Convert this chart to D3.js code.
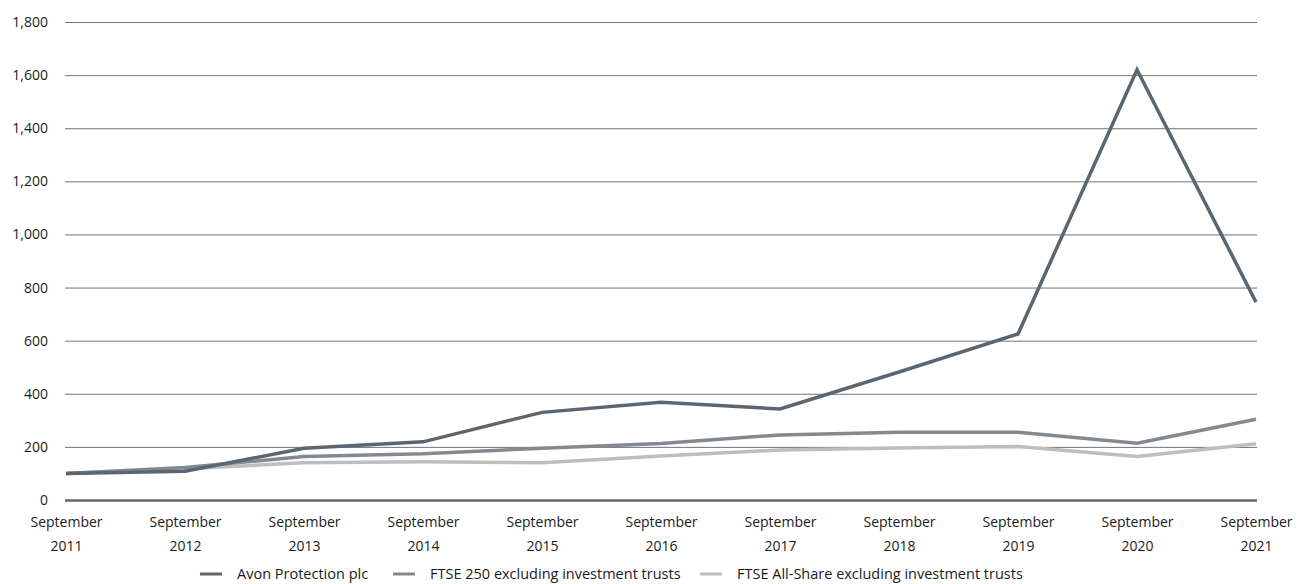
<!DOCTYPE html>
<html><head><meta charset="utf-8">
<script src="https://cdn.jsdelivr.net/npm/d3@7"></script>
<style>body{margin:0;background:#fff}svg{display:block}text{font-family:"Open Sans",sans-serif;fill:#1a1a1a}</style>
</head><body><svg id="c" width="1311" height="584"></svg>
<script>
const years = ["2011","2012","2013","2014","2015","2016","2017","2018","2019","2020","2021"];
const avon = [100,108,195,219,330,368,343,482,625,1620,745];
const ftse250 = [100,122,164,174,195,213,245,255,255,214,304];
const allShare = [100,118,140,144,140,166,188,196,201,164,212];
const yTicks = [0,200,400,600,800,1000,1200,1400,1600,1800];
const seriesNames = ["Avon Protection plc","FTSE 250 excluding investment trusts","FTSE All-Share excluding investment trusts"];
const colors = ["#5b6770","#818a93","#bcbec1"];

const svg = d3.select("#c");
const x = d3.scalePoint().domain(years).range([66,1256]);
const y = d3.scaleLinear().domain([0,1800]).range([500,22]);

const yAxis = d3.axisLeft(y).tickValues(yTicks).tickSize(-(1257-65)).tickFormat(d3.format(","));
const gy = svg.append("g").attr("transform","translate(65,0)").call(yAxis);
gy.select(".domain").remove();
gy.selectAll(".tick line").attr("stroke",d=>d===0?"#5b6770":"#6d737a").attr("stroke-width",d=>d===0?2.5:1);
gy.selectAll(".tick text").attr("x",-17).style("font-size","14px").attr("fill","#1a1a1a");

const xAxis = d3.axisBottom(x).tickSize(0).tickFormat(()=>"");
const gx = svg.append("g").attr("transform","translate(0,500)").call(xAxis);
gx.select(".domain").remove();
gx.selectAll(".tick").each(function(d){
  const t = d3.select(this).append("text").attr("text-anchor","middle").style("font-size","14px").attr("fill","#1a1a1a");
  t.append("tspan").attr("x",0).attr("y",27).text("September");
  t.append("tspan").attr("x",0).attr("y",51).text(d);
});

const line = d3.line().x((d,i)=>x(years[i])).y(d=>y(d));
const data = [allShare, ftse250, avon];
const cols = [colors[2], colors[1], colors[0]];
data.forEach((s,i)=>{
  svg.append("path").datum(s).attr("d",line).attr("fill","none")
    .attr("stroke",cols[i]).attr("stroke-width",3.5).attr("stroke-linejoin","miter");
});

const leg = [200,393,700];
seriesNames.forEach((n,i)=>{
  const g = svg.append("g").attr("transform",`translate(${leg[i]},574)`);
  g.append("line").attr("x1",0).attr("x2",22).attr("y1",0).attr("y2",0).attr("stroke",colors[i]).attr("stroke-width",3);
  g.append("text").attr("x",37).attr("y",5).style("font-size","14.5px").text(n);
});
</script></body></html>
